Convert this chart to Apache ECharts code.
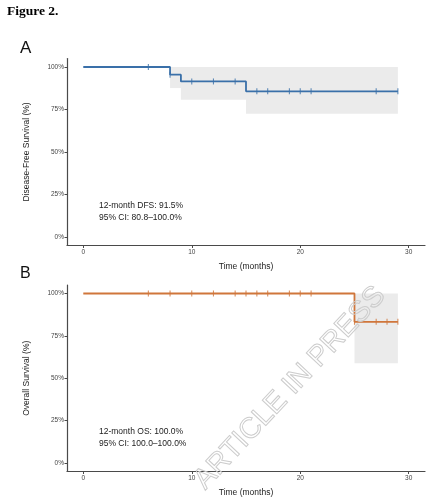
<!DOCTYPE html>
<html>
<head>
<meta charset="utf-8">
<script src="https://cdn.jsdelivr.net/npm/echarts@6/dist/echarts.min.js"></script>
<style>
html,body{margin:0;padding:0;background:#fff;}
#c{width:438px;height:500px;}
</style>
</head>
<body>
<div id="c"></div>
<script>
// Panel A: disease-free survival (step curve points: time, survival)
const dfsCurve = [[0, 1.0], [8, 0.955], [9, 0.915], [15, 0.857], [29, 0.857]];
const dfsCensor = [6, 8, 10, 12, 14, 16, 17, 19, 20, 21, 27, 29];
// CI bands: [start, end, lower, upper]
const dfsCI = [[8, 9, 0.876, 1.0], [9, 15, 0.808, 1.0], [15, 29, 0.725, 1.0]];

// Panel B: overall survival
const osCurve = [[0, 1.0], [25, 0.833], [29, 0.833]];
const osCensor = [6, 8, 10, 12, 14, 15, 16, 17, 19, 20, 21, 25, 27, 28, 29];
const osCI = [[25, 29, 0.588, 1.0]];

const xTicks = [0, 10, 20, 30];
const yTicks = [0, 0.25, 0.5, 0.75, 1];
const yTickLabels = ['0%', '25%', '50%', '75%', '100%'];

function survAt(curve, t) {
  let s = curve[0][1];
  for (const p of curve) { if (p[0] <= t) s = p[1]; }
  return s;
}

const blue = '#3A70A9';
const orange = '#D0763B';
const axisColor = '#4a4a4a';
const lblColor = '#444';

function xAx(gi) {
  return {
    gridIndex: gi, type: 'value', min: -1.5, max: 31.5,
    name: 'Time (months)', nameLocation: 'middle', nameGap: 17,
    nameTextStyle: { fontSize: 8.5, color: '#222', fontFamily: 'Liberation Sans' },
    splitLine: { show: false },
    axisLine: { show: true, onZero: false, lineStyle: { color: axisColor, width: 1.2 } },
    axisTick: { show: true, length: 2.5, lineStyle: { color: axisColor }, customValues: xTicks },
    axisLabel: { fontSize: 6.5, color: lblColor, margin: 3, fontFamily: 'Liberation Sans', customValues: xTicks }
  };
}
function yAx(gi, name) {
  return {
    gridIndex: gi, type: 'value', min: -0.05, max: 1.05,
    name: name, nameLocation: 'middle', nameGap: 36, nameRotate: 90,
    nameTextStyle: { fontSize: 8.5, color: '#222', fontFamily: 'Liberation Sans' },
    splitLine: { show: false },
    axisLine: { show: true, onZero: false, lineStyle: { color: axisColor, width: 1.2 } },
    axisTick: { show: true, length: 2.5, lineStyle: { color: axisColor }, customValues: yTicks },
    axisLabel: {
      fontSize: 6.5, color: lblColor, margin: 3, fontFamily: 'Liberation Sans', customValues: yTicks,
      formatter: v => { const i = yTicks.findIndex(t => Math.abs(t - v) < 1e-9); return i >= 0 ? yTickLabels[i] : ''; }
    }
  };
}

function ciSeries(gi, data) {
  return {
    type: 'custom', xAxisIndex: gi, yAxisIndex: gi, silent: true, z: 1,
    data: data,
    renderItem: (params, api) => {
      const p0 = api.coord([api.value(0), api.value(3)]);
      const p1 = api.coord([api.value(1), api.value(2)]);
      return { type: 'rect', shape: { x: p0[0], y: p0[1], width: p1[0] - p0[0], height: p1[1] - p0[1] }, style: { fill: '#ebebeb' } };
    }
  };
}
function curveSeries(gi, data, color) {
  return {
    type: 'line', xAxisIndex: gi, yAxisIndex: gi, step: 'end', data: data,
    showSymbol: false, symbol: 'none', lineStyle: { color: color, width: 1.8 }, z: 3, silent: true
  };
}
function censorSeries(gi, times, curve, color) {
  return {
    type: 'scatter', xAxisIndex: gi, yAxisIndex: gi, silent: true, z: 4,
    data: times.map(t => [t, survAt(curve, t)]),
    symbol: 'rect', symbolSize: [1.1, 6], itemStyle: { color: color }
  };
}

const chart = echarts.init(document.getElementById('c'), null, { renderer: 'canvas' });
const txt = (x, y, s, size, extra) => Object.assign({
  type: 'text', left: x, top: y, style: Object.assign({ text: s, fontSize: size, fill: '#222', fontFamily: 'Liberation Sans' }, extra || {})
});
chart.setOption({
  animation: false,
  backgroundColor: '#fff',
  grid: [
    { left: 67, right: 13, top: 58.5, height: 187 },
    { left: 67, right: 13, top: 285, height: 186.5 }
  ],
  xAxis: [xAx(0), xAx(1)],
  yAxis: [yAx(0, 'Disease-Free Survival (%)'), yAx(1, 'Overall Survival (%)')],
  series: [
    ciSeries(0, dfsCI), curveSeries(0, dfsCurve, blue), censorSeries(0, dfsCensor, dfsCurve, blue),
    ciSeries(1, osCI), curveSeries(1, osCurve, orange), censorSeries(1, osCensor, osCurve, orange)
  ],
  graphic: [
    txt(7, 5, 'Figure 2.', 13.5, { fontFamily: 'Liberation Serif', fontWeight: 'bold', fill: '#000' }),
    txt(20, 40, 'A', 17, { fill: '#111' }),
    txt(20, 266, 'B', 16, { fill: '#111' }),
    txt(99, 201, '12-month DFS: 91.5%', 8.5),
    txt(99, 213, '95% CI: 80.8–100.0%', 8.5),
    txt(99, 427, '12-month OS: 100.0%', 8.5),
    txt(99, 439, '95% CI: 100.0–100.0%', 8.5),
    {
      type: 'text', x: 290, y: 388, rotation: 47 * Math.PI / 180, z: 100, silent: true,
      style: { text: 'ARTICLE IN PRESS', fontSize: 29, fontFamily: 'Liberation Sans', fill: 'rgba(0,0,0,0)', stroke: '#cccccc', lineWidth: 1, align: 'center', verticalAlign: 'middle' }
    }
  ]
});
</script>
</body>
</html>
